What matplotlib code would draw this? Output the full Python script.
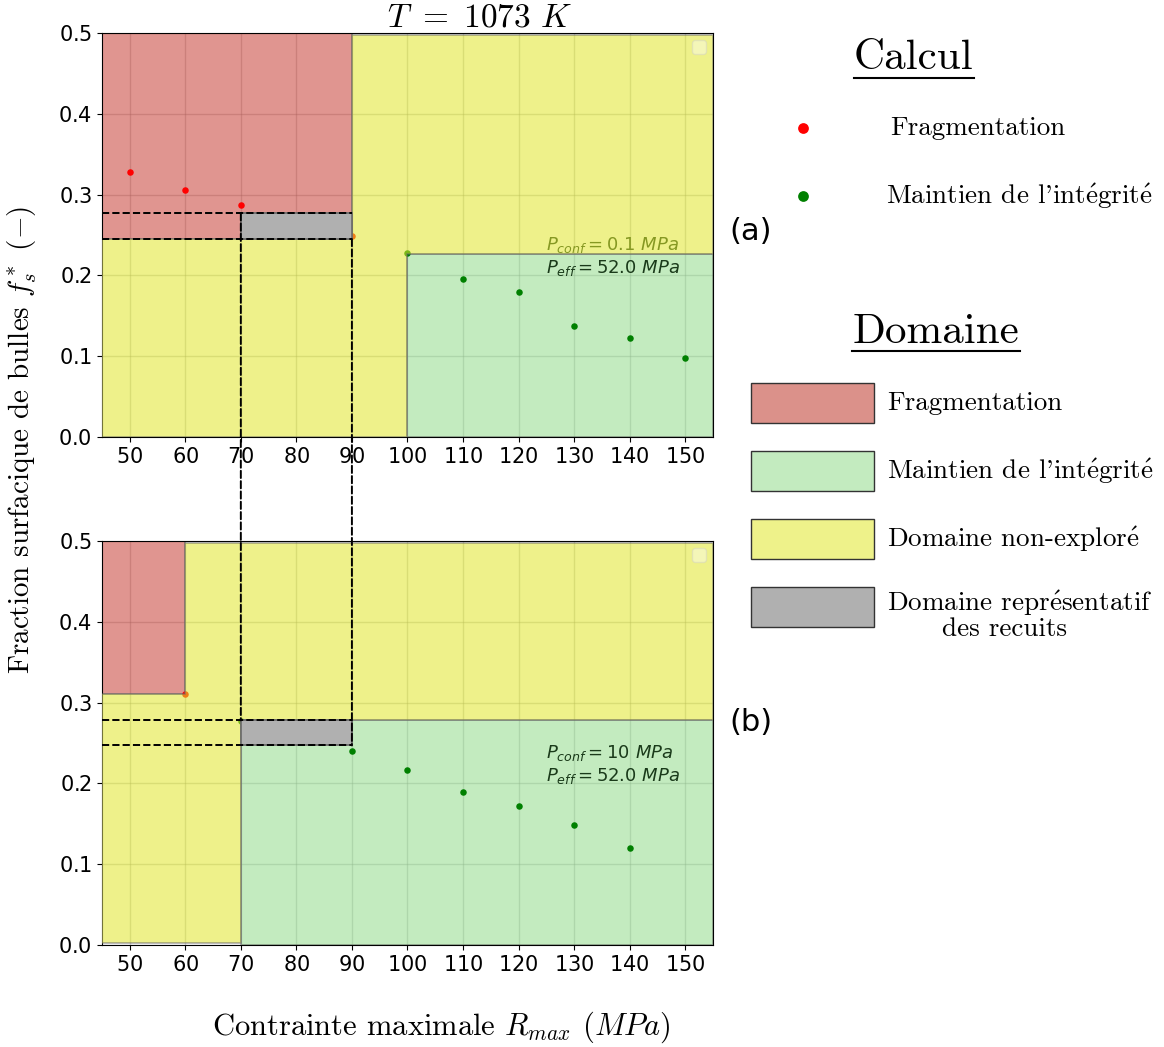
import matplotlib
matplotlib.use("Agg")
import matplotlib.pyplot as plt
from matplotlib.patches import Rectangle, Polygon, ConnectionPatch
from matplotlib.lines import Line2D

plt.rcParams["axes.formatter.use_mathtext"] = True

SERIF = ["cmr10", "DejaVu Serif"]

# points calculés (R_max, f_s*)
TOP_FRAG_X = [50, 60, 70, 90]
TOP_FRAG_Y = [0.328, 0.306, 0.287, 0.249]
TOP_INT_X = [100, 110, 120, 130, 140, 150]
TOP_INT_Y = [0.228, 0.195, 0.179, 0.137, 0.123, 0.098]

BOT_FRAG_X = [60]
BOT_FRAG_Y = [0.311]
BOT_INT_X = [70, 90, 100, 110, 120, 130, 140]
BOT_INT_Y = [0.277, 0.240, 0.217, 0.189, 0.172, 0.149, 0.120]

# domaines : rectangles (x0, x1, y0, y1), domaine non exploré en polygone
TOP_FRAG_ZONE = (45, 90, 0.245, 0.5)
TOP_INT_ZONE = (100, 155, 0.0, 0.227)
TOP_NONEXP_X = [45, 100, 100, 155, 155, 90, 90, 45]
TOP_NONEXP_Y = [0.0, 0.0, 0.227, 0.227, 0.497, 0.497, 0.245, 0.245]
TOP_RECUIT_ZONE = (70, 90, 0.245, 0.277)

BOT_FRAG_ZONE = (45, 60, 0.311, 0.5)
BOT_INT_ZONE = (70, 155, 0.0, 0.278)
BOT_NONEXP_X = [45, 70, 70, 155, 155, 60, 60, 45]
BOT_NONEXP_Y = [0.003, 0.003, 0.278, 0.278, 0.498, 0.498, 0.311, 0.311]
BOT_RECUIT_ZONE = (70, 90, 0.247, 0.278)

TOP_PCONF = "0.1"
BOT_PCONF = "10"
PEFF = "52.0"

XTICKS = [50, 60, 70, 80, 90, 100, 110, 120, 130, 140, 150]
YTICKS = [0.0, 0.1, 0.2, 0.3, 0.4, 0.5]

C_FRAG = "#c73e35"
C_INT = "#92db8c"
C_NONEXP = "#e0e72a"
C_RECUIT = "#b0b0b0"
ALPHA = 0.55


def rect(ax, z, color, zorder, alpha=ALPHA):
    x0, x1, y0, y1 = z
    ax.add_patch(Rectangle((x0, y0), x1 - x0, y1 - y0, facecolor=color,
                           edgecolor="dimgray", lw=1.2, alpha=alpha, zorder=zorder))


def panel(ax, frag_x, frag_y, int_x, int_y, frag_z, int_z, nx, ny, recuit_z, pconf):
    ax.set_xlim(45, 155)
    ax.set_ylim(0, 0.5)
    ax.set_xticks(XTICKS)
    ax.set_yticks(YTICKS)
    ax.tick_params(labelsize=15)
    ax.grid(True, color="gray", alpha=0.35, lw=1, zorder=0)
    ax.set_axisbelow(True)

    rect(ax, frag_z, C_FRAG, 2)
    rect(ax, int_z, C_INT, 2)
    ax.text(125, 0.238, r"$P_{conf} = %s\ MPa$" % pconf, fontsize=13, va="center",
            color="#1a3a1a", zorder=3)
    ax.text(125, 0.209, r"$P_{eff} = %s\ MPa$" % PEFF, fontsize=13, va="center",
            color="#1a3a1a", zorder=3)
    ax.scatter(frag_x, frag_y, s=22, color="red", zorder=3, lw=0)
    ax.scatter(int_x, int_y, s=22, color="green", zorder=3, lw=0)
    ax.add_patch(Polygon(list(zip(nx, ny)), closed=True, facecolor=C_NONEXP,
                         edgecolor="dimgray", lw=1.2, alpha=ALPHA, zorder=4))
    rect(ax, recuit_z, C_RECUIT, 5, alpha=1)

    x0, x1, y0, y1 = recuit_z
    ax.plot([45, x1], [y1, y1], "k--", lw=1.4, zorder=6)
    ax.plot([45, x1], [y0, y0], "k--", lw=1.4, zorder=6)

    ax.legend(handles=[], loc="upper right", borderpad=0.5, framealpha=0.4)


fig = plt.figure(figsize=(11.64, 10.47), dpi=100)
ax1 = fig.add_axes([0.0876, 0.5826, 0.5249, 0.3859])
ax2 = fig.add_axes([0.0876, 0.0974, 0.5249, 0.3859])

panel(ax1, TOP_FRAG_X, TOP_FRAG_Y, TOP_INT_X, TOP_INT_Y,
      TOP_FRAG_ZONE, TOP_INT_ZONE, TOP_NONEXP_X, TOP_NONEXP_Y, TOP_RECUIT_ZONE, TOP_PCONF)
panel(ax2, BOT_FRAG_X, BOT_FRAG_Y, BOT_INT_X, BOT_INT_Y,
      BOT_FRAG_ZONE, BOT_INT_ZONE, BOT_NONEXP_X, BOT_NONEXP_Y, BOT_RECUIT_ZONE, BOT_PCONF)

# lignes verticales reliant les deux domaines représentatifs
for xa, ya, yb in [(TOP_RECUIT_ZONE[0], TOP_RECUIT_ZONE[3], BOT_RECUIT_ZONE[3]),
                   (TOP_RECUIT_ZONE[1], TOP_RECUIT_ZONE[2], BOT_RECUIT_ZONE[2])]:
    con = ConnectionPatch(xyA=(xa, ya), coordsA=ax1.transData,
                          xyB=(xa, yb), coordsB=ax2.transData,
                          color="k", ls="--", lw=1.4, zorder=6)
    fig.add_artist(con)

fig.text(0.412, 0.984, r"$T\ =\ 1073\ K$", fontsize=24, ha="center", va="center",
         math_fontfamily="cm")
fig.text(0.019, 0.58, r"Fraction surfacique de bulles $f_s^*$ $(-)$", rotation=90,
         fontsize=21, ha="center", va="center", family=SERIF, math_fontfamily="cm")
fig.text(0.379, 0.019, r"Contrainte maximale $R_{max}$ $(MPa)$",
         fontsize=22, ha="center", va="center", family=SERIF, math_fontfamily="cm")

fig.text(0.627, 0.779, "(a)", fontsize=22, va="center")
fig.text(0.627, 0.310, "(b)", fontsize=22, va="center")

# légendes à droite (coordonnées en pixels)
lg = fig.add_axes([0, 0, 1, 1])
lg.set_xlim(0, 1164)
lg.set_ylim(1047, 0)
lg.axis("off")
lg.patch.set_alpha(0)

ACUTE_E = r"$\acute{\mathrm{e}}$"

lg.text(913, 58, "Calcul", fontsize=31, ha="center", va="center", family=SERIF)
lg.add_line(Line2D([854, 974], [78, 78], color="k", lw=1.5))
lg.scatter([803], [128], s=60, color="red", lw=0)
lg.scatter([803], [196], s=60, color="green", lw=0)
lg.text(890, 128, "Fragmentation", fontsize=19.5, va="center", family=SERIF)
lg.text(886, 196, "Maintien de l'int%sgrit%s" % (ACUTE_E, ACUTE_E), fontsize=19.5,
        va="center", family=SERIF, math_fontfamily="cm")

lg.text(936, 332, "Domaine", fontsize=31, ha="center", va="center", family=SERIF)
lg.add_line(Line2D([852, 1020], [351, 351], color="k", lw=1.5))

LEG_LABELS = ["Fragmentation", "Maintien de l'int%sgrit%s" % (ACUTE_E, ACUTE_E),
              "Domaine non-explor%s" % ACUTE_E,
              "Domaine repr%ssentatif" % ACUTE_E]
LEG_COLORS = ["#db918a", "#c3ebbf", "#eef28a", "#b0b0b0"]
for i, (lab, col) in enumerate(zip(LEG_LABELS, LEG_COLORS)):
    yc = 403 + 68 * i
    lg.add_patch(Rectangle((751, yc - 20), 123, 40, facecolor=col, edgecolor="#333333", lw=1))
    lg.text(887, yc + (-4 if i == 3 else 0), lab, fontsize=19.5, va="center", family=SERIF,
            math_fontfamily="cm")
lg.text(1005, 629, "des recuits", fontsize=19.5, ha="center", va="center", family=SERIF)

fig.savefig("out.png", dpi=100, facecolor="white")
